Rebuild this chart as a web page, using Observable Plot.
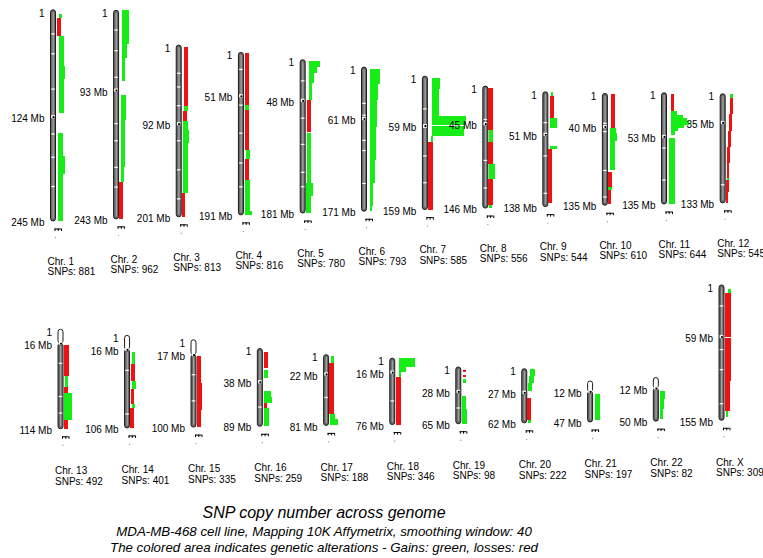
<!DOCTYPE html>
<html><head><meta charset="utf-8">
<script src="https://cdn.jsdelivr.net/npm/d3@7"></script>
<script src="https://cdn.jsdelivr.net/npm/@observablehq/plot@0.6"></script>
<style>
html,body{margin:0;padding:0;background:#fff;overflow:hidden;}
body{font-family:"Liberation Sans",Arial,Helvetica,sans-serif;}
#chart svg{display:block;}
#titles{width:648px;text-align:center;font-style:italic;color:#000;}
#titles .t1{font-size:16px;line-height:22px;}
#titles .t2{font-size:13.3px;line-height:15.5px;}
</style></head>
<body>
<div id="chart"></div>
<div id="titles">
<div class="t1">SNP copy number across genome</div>
<div class="t2">MDA-MB-468 cell line, Mapping 10K Affymetrix, smoothing window: 40</div>
<div class="t2">The colored area indicates genetic alterations - Gains: green, losses: red</div>
</div>
<script>
// ---------------- data ----------------
const chromosomes = ["1","2","3","4","5","6","7","8","9","10","11","12","13","14","15","16","17","18","19","20","21","22","X"];
const lengthsMb   = [245,243,201,191,181,171,159,146,138,135,135,133,114,106,100,89,81,76,65,62,47,50,155];
const centromereMb= [124,93,92,51,48,61,59,45,51,40,53,35,16,16,17,38,22,16,28,27,12,12,59];
const snpCounts   = [881,962,813,816,780,793,585,556,544,610,644,545,492,401,335,259,188,346,98,222,197,82,309];
const acrocentric = ["13","14","15","21","22"];

// light (white) G-band positions seen on the ideograms, Mb
const bandsMb = [
  [28,51,92,144,171,205],[23,47,78,132,152,183,206],[33,49,71,112,146,180],[20,62,95,130,158],
  [25,69,100,133,150],[43,57,87,99,138],[39,61,95,127],[40,89,122],[37,77,122],[36,46,93,125],
  [67,106],[111],[39,77,96],[40,90],[40,70],[67],[49],[49],[47],[],[],[],[24,74,97,136]
];

// smoothed copy-number profile: [state, startMb, endMb, low, high]  (g = gain, r = loss)
const cn1  = [["g",5,9,1.2,2.3],["r",9,30,0.3,2.0],["g",30,65,1.0,3.1],["g",65,80,1.0,3.6],["g",80,120,1.0,3.0],["g",143,170,0.9,2.9],["g",170,190,0.9,3.4],["g",190,245,0.9,2.8]];
const cn2  = [["g",0,39,1.1,4.0],["g",39,55,1.1,3.3],["g",55,82,1.1,2.4],["g",99,128,0.8,2.9],["g",128,183,0.8,2.4],["g",183,200,0.7,2.1],["r",200,243,0.0,1.7]];
const cn3  = [["r",2,71,0.9,2.5],["g",71,77,1.1,2.4],["r",77,89,0.6,2.1],["g",89,99,0.65,2.6],["g",99,115,0.65,2.9],["g",115,173,0.65,2.6],["r",173,201,0.0,1.3]];
const cn4  = [["r",1,62,0.5,2.2],["g",62,68,0.6,2.2],["r",68,115,0.5,2.2],["g",115,125,0.8,2.3],["r",125,150,0.5,2.2],["g",150,186,0.6,2.3],["g",186,191,0.6,3.1]];
const cn5  = [["g",1,8,1.3,5.6],["g",8,16,1.3,4.6],["g",16,28,1.3,3.3],["g",28,47,1.3,2.6],["r",47,85,0.65,2.2],["g",87,146,0.6,2.2],["g",146,161,0.3,2.9],["g",161,181,0.3,2.3]];
const cn6  = [["g",2,20,1.2,5.2],["g",20,39,1.2,4.5],["g",39,71,1.2,3.9],["g",71,110,1.1,3.6],["g",110,138,1.1,3.2],["g",138,165,1.0,2.3],["g",165,171,1.0,1.8]];
const cn7  = [["g",1.6,15.5,1.5,4.8],["g",15.5,47.5,1.5,4.5],["g",47.5,58.5,1.5,15.1],["g",59.5,62.5,1.5,15.0],["g",63.5,71,1.5,14.4],["g",71,79,1.3,2.0],["r",79,159,0.1,2.1]];
const cn8  = [["r",2,53,0.0,2.0],["g",53,67,0.3,2.0],["r",67,93,0.0,2.0],["g",93,111,0.3,2.7],["r",111,142,0.0,1.9],["g",142,146,0.3,1.6]];
const cn9  = [["g",0,5,0.9,2.0],["r",5,31,0.8,2.1],["g",31,43,0.8,3.5],["g",65,69,0.8,3.3],["r",69,134,0.0,1.5]];
const cn10 = [["r",1,42,1.35,2.7],["g",42,48,0.7,3.1],["g",48,57,0.7,3.6],["g",57,93,0.7,3.0],["r",95,113,0.0,1.75],["g",113,117,0.2,1.6],["r",117,133,0.0,1.4]];
const cn11 = [["r",2,22.4,1.6,2.6],["g",22.4,26.4,1.6,3.8],["g",26.4,30.5,1.6,6.3],["g",30.5,34.6,1.6,8.0],["g",34.6,38.6,1.6,8.6],["g",38.6,42.7,1.6,6.6],["g",42.7,46.7,1.6,4.5],["g",46.7,51,1.6,3.3],["g",55,135,0.65,3.3]];
const cn12 = [["g",0,5,1.9,3.1],["r",5,25,1.6,3.0],["r",25,45,1.3,2.6],["r",45,65,0.8,2.1],["r",65,85,0.6,1.8],["r",85,103,0.4,1.5],["g",103,105,0.4,1.5],["r",105,120,0.2,1.2],["r",120,133,0.0,0.9]];
const cn13 = [["r",18,54,0.2,2.2],["g",54,66,0.6,1.9],["r",66,73,0.3,1.6],["g",73,104,0.3,3.3],["r",104,114,0.2,1.8]];
const cn14 = [["g",19,32.5,0.85,1.9],["r",32.5,52,0.35,1.9],["g",52,61,0.85,2.3],["r",61,78.5,0.3,1.7],["g",78.5,83,0.7,1.8],["r",83,106,0.0,1.5]];
const cn15 = [["r",19,50,0.2,1.9],["r",50,80,0.2,2.1],["r",80,100,0.1,1.7]];
const cn16 = [["r",3.7,22.5,0.3,2.2],["g",24,34,0.6,1.9],["g",49,56,0.3,3.2],["g",56,62,0.3,3.7],["r",62,67.6,0.3,1.6],["g",67.6,89,0.4,2.6]];
const cn17 = [["g",1,9,0.9,1.9],["r",9,67.6,0.1,1.9],["g",67.6,74,0.5,2.5],["g",74,81,0.5,3.5]];
const cn18 = [["g",0,9.8,1.4,7.7],["g",9.8,15.6,1.4,4.4],["g",15.6,21.5,1.4,2.4],["r",21.5,76,0.35,2.35]];
const cn19 = [["r",3,6,0.6,1.7],["r",9,12,0.6,1.7],["g",14,18,0.6,1.7],["g",33,48,0.3,1.9],["g",48,65,0.3,2.3]];
const cn20 = [["g",0,8,0.9,2.9],["g",8,16,0.6,2.5],["g",16,25,0.3,2.0],["r",34,59,0.0,1.5],["g",59,62,0.3,1.6]];
const cn21 = [["g",15,45,0.6,2.6]];
const cn22 = [["g",15,25,0.55,2.55],["g",25,36,0.55,2.1],["g",36,48,0.55,1.6]];
const cnChrX = [["g",5,9,1.3,2.5],["r",9,60,0.3,2.5],["r",61,110,0.3,2.4],["r",110,144,0.2,2.1],["g",144,151,0.5,1.5]];

const profiles = [cn1,cn2,cn3,cn4,cn5,cn6,cn7,cn8,cn9,cn10,cn11,cn12,cn13,cn14,cn15,cn16,cn17,cn18,cn19,cn20,cn21,cn22,cnChrX];

// ---------------- layout ----------------
const W = 763, H = 502;
const GREEN = "#16ec16", RED = "#f01212";
const rowOf = i => i < 12 ? 0 : 1;
const colOf = i => i < 12 ? i : i - 12;
function rodX(i){ const c = colOf(i); return rowOf(i) === 0 ? 53 + 63.3*c - 0.22*c*c : 60.5 + 66.6*c - 0.05*c*c; }
function rodBottom(i){ const c = colOf(i); return rowOf(i) === 0 ? 221 - 2.2*c + 0.05*c*c : 428.8 - 0.85*c; }
function pxPerMb(i){ const c = colOf(i); return rowOf(i) === 0 ? 0.862 - 0.0038*c : 0.873; }
function yAt(i, mb){ return rodBottom(i) - (lengthsMb[i] - mb) * pxPerMb(i); }
function xAtCn(i, v){ return rodX(i) + 3 + v * 2.5; }

const rows = chromosomes.map((name, i) => ({i, name, len: lengthsMb[i], cen: centromereMb[i], snps: snpCounts[i], acro: acrocentric.includes(name)}));
const segRows = profiles.flatMap((arr, i) => arr.map(([state, start, end, lo, hi]) => ({i, state, start, end, lo, hi})));
const bandRows = bandsMb.flatMap((arr, i) => arr.map(mb => ({i, mb})));
const legRows = rows.flatMap(d => [-0.6, 0.7, 2.0].map(v => ({i: d.i, v})));
// the "1" label is left out where it would collide with the centromere label
const topLabelRows = rows.filter(d => d.cen * pxPerMb(d.i) >= 12);

const ink = "#1c1c1c";
const chart = Plot.plot({
  width: W, height: H, margin: 0,
  x: {domain: [0, W], range: [0, W], axis: null},
  y: {domain: [0, H], range: [0, H], axis: null},
  style: {fontFamily: "'Liberation Sans', Arial, sans-serif", fontSize: "10px", background: "white", color: "black"},
  marks: [
    // ideogram bodies
    Plot.rect(rows, {x1: d => rodX(d.i) - 2.5, x2: d => rodX(d.i) + 2.5,
      y1: d => yAt(d.i, d.acro ? d.cen : 0), y2: d => yAt(d.i, d.len),
      fill: "#676767", stroke: ink, strokeWidth: 1, rx: 2.5}),
    Plot.rect(rows.filter(d => d.acro), {x1: d => rodX(d.i) - 2.5, x2: d => rodX(d.i) + 2.5,
      y1: d => yAt(d.i, 0), y2: d => yAt(d.i, d.cen),
      fill: "white", stroke: ink, strokeWidth: 1, rx: 2.5}),
    Plot.rect(rows, {x1: d => rodX(d.i) - 0.5, x2: d => rodX(d.i) + 0.9,
      y1: d => yAt(d.i, d.acro ? d.cen : 0) + 2.5, y2: d => yAt(d.i, d.len) - 2.5, fill: "#a0a0a0"}),
    Plot.rect(bandRows, {x1: d => rodX(d.i) - 1.8, x2: d => rodX(d.i) + 1.8,
      y1: d => yAt(d.i, d.mb) - 0.6, y2: d => yAt(d.i, d.mb) + 0.6, fill: "white"}),
    Plot.rect(rows, {x1: d => rodX(d.i) - 1.8, x2: d => rodX(d.i) + 1.8,
      y1: d => yAt(d.i, d.cen) - 1.6, y2: d => yAt(d.i, d.cen) + 1.6, fill: "white"}),
    Plot.dot(rows, {x: d => rodX(d.i), y: d => yAt(d.i, d.cen), r: 1.1, fill: "black"}),
    // copy-number profile
    Plot.rect(segRows.filter(d => d.state === "g"), {x1: d => xAtCn(d.i, d.lo), x2: d => xAtCn(d.i, d.hi),
      y1: d => yAt(d.i, d.start), y2: d => yAt(d.i, d.end), fill: GREEN, shapeRendering: "crispEdges"}),
    Plot.rect(segRows.filter(d => d.state === "r"), {x1: d => xAtCn(d.i, d.lo), x2: d => xAtCn(d.i, d.hi),
      y1: d => yAt(d.i, d.start), y2: d => yAt(d.i, d.end), fill: RED, shapeRendering: "crispEdges"}),
    // small scale key under each profile
    Plot.ruleY(rows, {y: d => rodBottom(d.i) + 7.5, x1: d => xAtCn(d.i, -0.6), x2: d => xAtCn(d.i, 2.0), stroke: "black", strokeWidth: 1}),
    Plot.ruleX(legRows, {x: d => xAtCn(d.i, d.v), y1: d => rodBottom(d.i) + 7.5, y2: d => rodBottom(d.i) + 10, stroke: "black", strokeWidth: 1}),
    Plot.dot(rows, {x: d => rodX(d.i) + 2, y: d => rodBottom(d.i) + 16, r: 0.7, fill: "#999"}),
    // position labels
    Plot.text(topLabelRows, {x: d => rodX(d.i) - 9, y: d => yAt(d.i, 0) + 3, text: () => "1", textAnchor: "end", fill: "black"}),
    Plot.text(rows, {x: d => rodX(d.i) - 9, y: d => yAt(d.i, d.cen) + 2, text: d => `${d.cen} Mb`, textAnchor: "end", fill: "black"}),
    Plot.text(rows, {x: d => rodX(d.i) - 9, y: d => rodBottom(d.i) + 1.5, text: d => `${d.len} Mb`, textAnchor: "end", fill: "black"}),
    // chromosome captions
    Plot.text(rows, {x: d => rodX(d.i) - 6, y: d => rodBottom(d.i) + (rowOf(d.i) === 0 ? 40 : 41.5), text: d => `Chr. ${d.name}`, textAnchor: "start", fill: "black"}),
    Plot.text(rows, {x: d => rodX(d.i) - 6, y: d => rodBottom(d.i) + (rowOf(d.i) === 0 ? 50.3 : 52), text: d => `SNPs: ${d.snps}`, textAnchor: "start", fill: "black"})
  ]
});
document.getElementById("chart").appendChild(chart);
</script>
</body></html>
